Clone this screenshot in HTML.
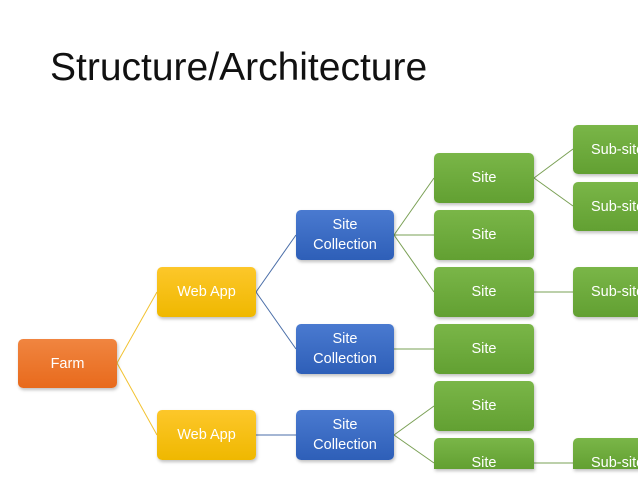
<!DOCTYPE html>
<html><head><style>
body{margin:0;width:638px;height:479px;overflow:hidden;background:#fff;position:relative;font-family:"Liberation Sans",sans-serif}
.t{position:absolute;left:50px;top:46px;font-size:39px;color:#111}
.b{position:absolute;border-radius:5px;color:#fff;font-size:14.5px;display:flex;align-items:center;justify-content:center;text-align:center;line-height:20px;box-shadow:1px 2px 3px rgba(0,0,0,.25)}
.o{background:linear-gradient(#f08540,#e86a1c)}
.y{background:linear-gradient(#fdc72a,#efb800)}
.bl{background:linear-gradient(#4a7ad0,#2e5fb8)}
.g{background:linear-gradient(#7ab648,#62a032)}
</style></head><body>
<div class="t">Structure/Architecture</div>
<svg width="638" height="479" style="position:absolute;left:0;top:0">
<g stroke="#f2c230" stroke-width="1" fill="none">
<path d="M117 363 L157 292 M117 363 L157 435"/></g>
<g stroke="#4a6ea8" stroke-width="1" fill="none">
<path d="M256 292 L296 235 M256 292 L296 349 M256 435 L296 435"/></g>
<g stroke="#7aa055" stroke-width="1" fill="none">
<path d="M394 235 L434 178 M394 235 L434 235 M394 235 L434 292 M394 349 L434 349 M394 435 L434 406 M394 435 L434 463 M534 178 L573 149 M534 178 L573 206 M534 292 L573 292 M534 463 L573 463"/></g>
</svg>
<div class="b o" style="left:18px;top:339px;width:99px;height:49px">Farm</div>
<div class="b y" style="left:157px;top:267px;width:99px;height:50px">Web App</div>
<div class="b y" style="left:157px;top:410px;width:99px;height:50px">Web App</div>
<div class="b bl" style="left:296px;top:210px;width:98px;height:50px">Site<br>Collection</div>
<div class="b bl" style="left:296px;top:324px;width:98px;height:50px">Site<br>Collection</div>
<div class="b bl" style="left:296px;top:410px;width:98px;height:50px">Site<br>Collection</div>
<div class="b g" style="left:434px;top:153px;width:100px;height:50px">Site</div>
<div class="b g" style="left:434px;top:210px;width:100px;height:50px">Site</div>
<div class="b g" style="left:434px;top:267px;width:100px;height:50px">Site</div>
<div class="b g" style="left:434px;top:324px;width:100px;height:50px">Site</div>
<div class="b g" style="left:434px;top:381px;width:100px;height:50px">Site</div>
<div class="b g" style="left:434px;top:438px;width:100px;height:31px;border-radius:5px 5px 0 0;align-items:flex-start;padding-top:15px;box-sizing:border-box;height:31px">Site</div>
<div class="b g" style="left:573px;top:125px;width:100px;height:49px;justify-content:flex-start;padding-left:18px;box-sizing:border-box">Sub-site</div>
<div class="b g" style="left:573px;top:182px;width:100px;height:49px;justify-content:flex-start;padding-left:18px;box-sizing:border-box">Sub-site</div>
<div class="b g" style="left:573px;top:267px;width:100px;height:50px;justify-content:flex-start;padding-left:18px;box-sizing:border-box">Sub-site</div>
<div class="b g" style="left:573px;top:438px;width:100px;height:31px;border-radius:5px 5px 0 0;justify-content:flex-start;align-items:flex-start;padding:15px 0 0 18px;box-sizing:border-box">Sub-site</div>
</body></html>
